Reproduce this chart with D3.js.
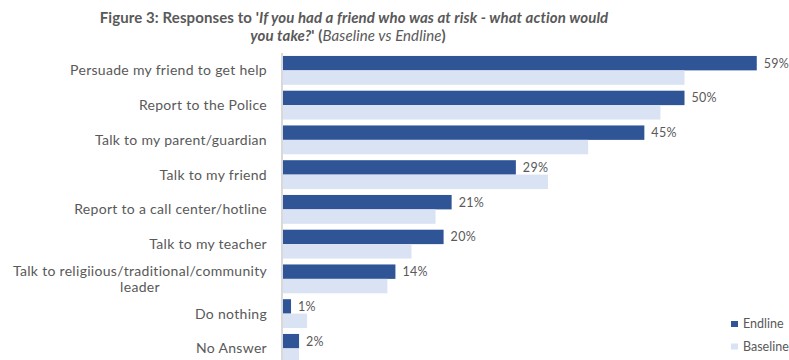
<!DOCTYPE html>
<html>
<head>
<meta charset="utf-8">
<script src="https://cdn.jsdelivr.net/npm/d3@7"></script>
<style>
  html, body { margin: 0; padding: 0; background: #ffffff; }
  svg { display: block; }
  text { font-family: Lato, "Open Sans", sans-serif; fill: #595959; }
</style>
</head>
<body>
<div id="chart"></div>
<script>
// Responses by category, endline vs baseline (percent)
const categories = [
  "Persuade my friend to get help",
  "Report to the Police",
  "Talk to my parent/guardian",
  "Talk to my friend",
  "Report to a call center/hotline",
  "Talk to my teacher",
  "Talk to religiious/traditional/community leader",
  "Do nothing",
  "No Answer"
];
const endline  = [59, 50, 45, 29, 21, 20, 14, 1, 2];
const baseline = [50, 47, 38, 33, 19, 16, 13, 3, 2];
const seriesNames = ["Endline", "Baseline"];
const seriesColors = ["#2F5597", "#DAE3F3"];

const W = 789, H = 360;
const svg = d3.select("#chart").append("svg")
  .attr("width", W).attr("height", H);

// Title (two lines, mixed bold / italic)
const title = svg.append("text")
  .attr("text-anchor", "middle")
  .style("font-weight", "bold")
  .style("font-size", "15px")
  .style("letter-spacing", "0.1px");
const t1 = title.append("tspan").attr("x", 354).attr("y", 23);
t1.append("tspan").text("Figure 3: Responses to '");
t1.append("tspan").style("font-style", "italic").text("If you had a friend who was at risk - what action would");
const t2 = title.append("tspan").attr("x", 348).attr("y", 41);
t2.append("tspan").style("font-style", "italic").text("you take?");
t2.append("tspan").text("' (");
t2.append("tspan").style("font-style", "italic").style("font-weight", "normal").text("Baseline vs Endline");
t2.append("tspan").text(")");

// Scales
const x = d3.scaleLinear().domain([0, 60]).range([283, 283 + 60 * 8.03]);
const y = d3.scaleBand().domain(categories)
  .range([53, 53 + categories.length * 34.75])
  .paddingInner(0.17).paddingOuter(0.085);
const ySub = d3.scaleBand().domain(seriesNames).range([0, y.bandwidth()]);

const rows = categories.map((c, i) => ({ c, values: [endline[i], baseline[i]] }));

// Bars
const g = svg.append("g");
const row = g.selectAll("g.row").data(rows).join("g")
  .attr("class", "row")
  .attr("transform", d => `translate(0,${y(d.c)})`);

row.selectAll("rect").data(d => d.values.map((v, k) => ({ v, k })))
  .join("rect")
  .attr("x", x(0))
  .attr("y", d => ySub(seriesNames[d.k]))
  .attr("width", d => x(d.v) - x(0))
  .attr("height", ySub.bandwidth())
  .attr("fill", d => seriesColors[d.k]);

// Value labels for endline
row.append("text")
  .attr("x", d => x(d.values[0]) + 7)
  .attr("y", ySub("Endline") + ySub.bandwidth() / 2)
  .attr("dy", "0.35em")
  .style("font-size", "12.5px")
  .style("letter-spacing", "0.3px")
  .text(d => d.values[0] + "%");

// Category axis line
const yAxis = d3.axisLeft(y).tickSize(0).tickFormat("");
const ax = svg.append("g").attr("transform", `translate(${x(0) - 1},0)`).call(yAxis);
ax.select(".domain").attr("stroke", "#d9d9d9").attr("stroke-width", 2)
  .attr("d", `M0,${y.range()[0]}V${H}`);

// Category labels, wrapped when too long
const labelRight = 267, maxW = 262;
const labelStyle = sel => sel.style("font-size", "14px").style("letter-spacing", "0.3px");
categories.forEach(c => {
  const cy = y(c) + y.bandwidth() / 2;
  const t = svg.append("text").call(labelStyle).attr("text-anchor", "end")
    .attr("x", labelRight).attr("y", cy).attr("dy", "0.35em").text(c);
  if (t.node().getComputedTextLength() > maxW) {
    const words = c.split(" ");
    const last = words.pop();
    const first = words.join(" ");
    t.remove();
    const probe = svg.append("text").call(labelStyle).text(first);
    const w1 = probe.node().getComputedTextLength();
    probe.remove();
    const cx = labelRight - w1 / 2;
    const lh = 15.5;
    const tt = svg.append("text").call(labelStyle).attr("text-anchor", "middle");
    tt.append("tspan").attr("x", cx).attr("y", cy - lh / 2).attr("dy", "0.35em").text(first);
    tt.append("tspan").attr("x", cx).attr("y", cy + lh / 2).attr("dy", "0.35em").text(last);
  }
});

// Legend
const legend = svg.append("g").selectAll("g").data(seriesNames).join("g")
  .attr("transform", (d, i) => `translate(731,${321 + i * 22.5})`);
legend.append("rect").attr("width", 7).attr("height", 6)
  .attr("fill", (d, i) => seriesColors[i]);
legend.append("text").attr("x", 12).attr("y", 3).attr("dy", "0.35em")
  .style("font-size", "12.5px").text(d => d);
</script>
</body>
</html>
